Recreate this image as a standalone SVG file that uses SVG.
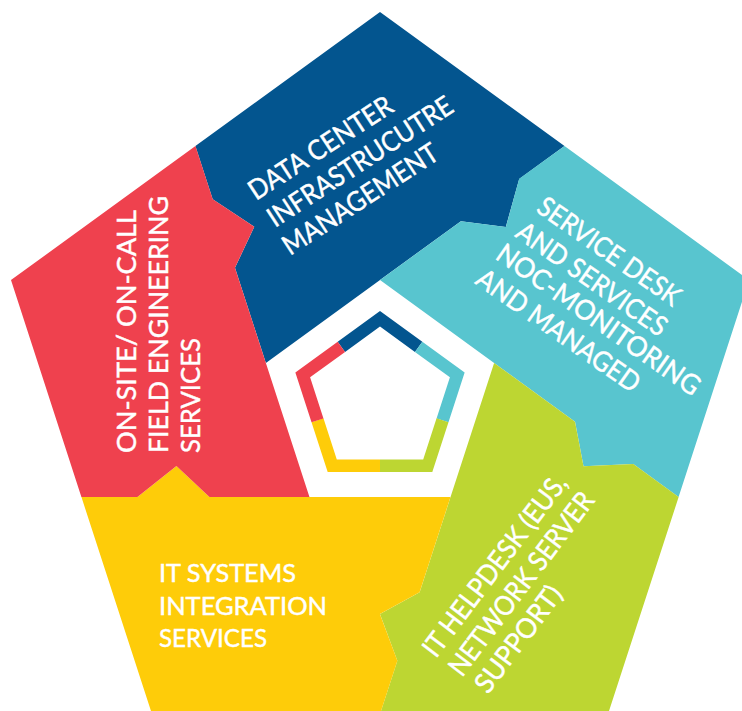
<svg xmlns="http://www.w3.org/2000/svg" xmlns:xlink="http://www.w3.org/1999/xlink" width="742" height="711" viewBox="0 0 742 711">
  <style>
    .lbl { font-family: Lato, "Liberation Sans", sans-serif; fill: #ffffff; stroke: #ffffff; stroke-width: 0.45px; font-size: 25px; }
    .big { font-size: 27.5px; }
    .blue { fill: #03558f; }
    .cyan { fill: #58c5cf; }
    .green { fill: #bdd632; }
    .yellow { fill: #fecc09; }
    .red { fill: #ef414e; }
  </style>
  <defs>
    <!-- one puzzle piece of the pentagon (top position); the others are rotations of it -->
    <path id="piece" d="M380,280 L460.9,221.2 L505.8,226.9 L519.2,178.9 L564.5,146 L380,12 L195.4,146 L212.7,199.3 L254.3,226.8 L235,267.8 L265.9,362.9 Z"/>
    <!-- one corner segment of the small central ring -->
    <path id="ringseg" d="M337.68,341.75 L380,311 L422.32,341.75 L414.95,351.9 L380,326.5 L345.05,351.9 Z"/>
  </defs>
  <rect width="742" height="711" fill="#ffffff"/>

  <g id="piece-datacenter" class="blue">
    <use xlink:href="#piece"/>
    <text class="lbl big" transform="translate(256,201) rotate(-33)" textLength="166" lengthAdjust="spacingAndGlyphs">DATA CENTER</text>
    <text class="lbl big" transform="translate(275,228) rotate(-33)" textLength="215" lengthAdjust="spacingAndGlyphs">INFRASTRUCUTRE</text>
    <text class="lbl big" transform="translate(290,256) rotate(-33)" textLength="180" lengthAdjust="spacingAndGlyphs">MANAGEMENT</text>
  </g>

  <g id="piece-servicedesk" class="cyan">
    <use xlink:href="#piece" transform="rotate(72 380 400)"/>
    <text class="lbl big" transform="translate(535,211) rotate(35)" textLength="168" lengthAdjust="spacingAndGlyphs">SERVICE DESK</text>
    <text class="lbl big" transform="translate(514,236) rotate(35)" textLength="177" lengthAdjust="spacingAndGlyphs">AND SERVICES</text>
    <text class="lbl big" transform="translate(494,258) rotate(35)" textLength="242" lengthAdjust="spacingAndGlyphs">NOC-MONITORING</text>
    <text class="lbl big" transform="translate(474,283) rotate(35)" textLength="193" lengthAdjust="spacingAndGlyphs">AND MANAGED</text>
  </g>

  <g id="piece-helpdesk" class="green">
    <use xlink:href="#piece" transform="rotate(144 380 400)"/>
    <text class="lbl big" transform="translate(436,659) rotate(-53)" textLength="220" lengthAdjust="spacingAndGlyphs">IT HELPDESK (EUS,</text>
    <text class="lbl big" transform="translate(462,678) rotate(-53)" textLength="222" lengthAdjust="spacingAndGlyphs">NETWORK SERVER</text>
    <text class="lbl big" transform="translate(488,695) rotate(-53)" textLength="126" lengthAdjust="spacingAndGlyphs">SUPPORT)</text>
  </g>

  <g id="piece-integration" class="yellow">
    <use xlink:href="#piece" transform="rotate(216 380 400)"/>
    <text class="lbl" x="159" y="582" textLength="137" lengthAdjust="spacingAndGlyphs">IT SYSTEMS</text>
    <text class="lbl" x="159" y="615" textLength="168" lengthAdjust="spacingAndGlyphs">INTEGRATION</text>
    <text class="lbl" x="159" y="647" textLength="108" lengthAdjust="spacingAndGlyphs">SERVICES</text>
  </g>

  <g id="piece-fieldengineering" class="red">
    <use xlink:href="#piece" transform="rotate(288 380 400)"/>
    <text class="lbl big" transform="translate(136,453) rotate(-90)" textLength="243" lengthAdjust="spacingAndGlyphs">ON-SITE/ ON-CALL</text>
    <text class="lbl big" transform="translate(168,453) rotate(-90)" textLength="257" lengthAdjust="spacingAndGlyphs">FIELD ENGINEERING</text>
    <text class="lbl big" transform="translate(200,453) rotate(-90)" textLength="115" lengthAdjust="spacingAndGlyphs">SERVICES</text>
  </g>

  <!-- central ring, one coloured segment per corner -->
  <g id="ring">
    <use xlink:href="#ringseg" class="blue"/>
    <use xlink:href="#ringseg" class="cyan" transform="rotate(72 380 400)"/>
    <use xlink:href="#ringseg" class="green" transform="rotate(144 380 400)"/>
    <use xlink:href="#ringseg" class="yellow" transform="rotate(216 380 400)"/>
    <use xlink:href="#ringseg" class="red" transform="rotate(288 380 400)"/>
  </g>
</svg>
